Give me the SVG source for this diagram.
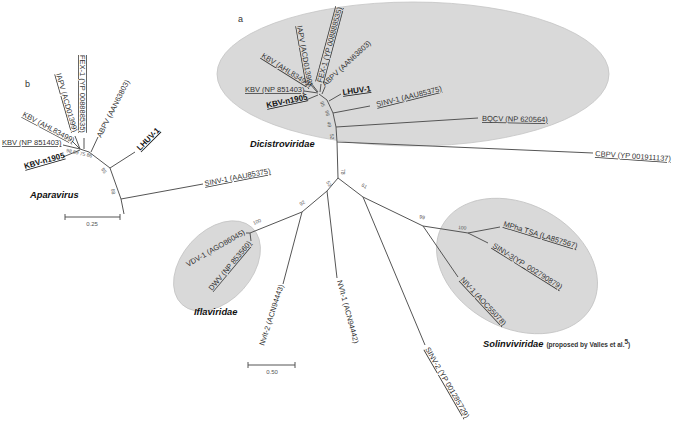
<svg xmlns="http://www.w3.org/2000/svg" width="675" height="423" viewBox="0 0 675 423">
<style>
.bg{fill:#fff}
.cl{fill:#d9d9d9;stroke:#c4c4c4;stroke-width:0.8}
.br{fill:none;stroke:#555;stroke-width:1}
.lb{font-family:"Liberation Sans",Arial,sans-serif;font-size:7.5px;fill:#333}
.u{text-decoration:underline}
.uo{text-decoration:underline overline}
.bd{font-family:"Liberation Sans",Arial,sans-serif;font-size:8px;font-weight:bold;fill:#111;text-decoration:underline}
.bs{font-family:"Liberation Sans",Arial,sans-serif;font-size:5px;fill:#555}
.fam{font-family:"Liberation Sans",Arial,sans-serif;font-size:9.3px;font-weight:bold;font-style:italic;fill:#111}
.pl{font-family:"Liberation Sans",Arial,sans-serif;font-size:9px;fill:#333}
.sc{font-family:"Liberation Sans",Arial,sans-serif;font-size:6px;fill:#555}
.note{font-family:"Liberation Sans",Arial,sans-serif;font-size:6.5px;font-weight:bold;fill:#333}
</style>
<rect class="bg" x="0" y="0" width="675" height="423"/>

<g id="clades">
<ellipse id="dicistroviridae-area" class="cl" cx="413" cy="74" rx="196" ry="72"/>
<ellipse id="iflaviridae-area" class="cl" cx="217" cy="266" rx="52" ry="35" transform="rotate(-48 217 266)"/>
<ellipse id="solinviviridae-area" class="cl" cx="517" cy="266" rx="85" ry="62" transform="rotate(28 517 266)"/>
</g>

<g id="connectors">
<!-- tree b -->
<path class="br" d="M63,145 L80,149 M72,141 L80,149 M75,136 L80,149 M84,138 L84,149 M63,157 L80,150 M98,137 L91,152"/>
<path class="br" d="M80,149 L89,152 L110,168 L121,199 L124,214"/>
<path class="br" d="M110,168 L135,152 M121,199 L203,184"/>
<!-- tree a -->
<path class="br" d="M304,91 L318,93 M306,100 L318,95 M310,84 L317,92 M311,83 L318,92 M321,84 L320,92 M325,87 L322,94"/>
<path class="br" d="M319,94 L327,100 L333,113 L336,127 L337,142 L338,178"/>
<path class="br" d="M329,101 L341,94 M333,113 L370,106 M336,127 L478,118 M337,142 L593,153"/>
<path class="br" d="M338,178 L327,191 M338,178 L363,197"/>
<path class="br" d="M327,191 L337,278 M327,191 L302,212"/>
<path class="br" d="M302,212 L250,233 M302,212 L283,284 M250,233 L246,233 M250,233 L251,241"/>
<path class="br" d="M363,197 L425,345 M363,197 L423,226"/>
<path class="br" d="M423,226 L468,233 M423,226 L458,277"/>
<path class="br" d="M468,233 L500,227 M468,233 L488,243"/>
</g>

<g id="tree-b">
<text class="pl" x="25" y="87">b</text>
<g id="b-fex1"><text class="lb uo" transform="translate(80,55) rotate(90)">FEX-1 (YP 008888535)</text></g>
<g id="b-iapv"><text class="lb u" transform="translate(56,74) rotate(74)">IAPV (ACD01399)</text></g>
<g id="b-kbv-ahl"><text class="lb u" transform="translate(22,116) rotate(28)">KBV (AHL83499)</text></g>
<g id="b-kbv-np"><text class="lb u" x="2" y="145">KBV (NP 851403)</text></g>
<g id="b-kbv-n1905"><text class="bd" transform="translate(25,169) rotate(-16)">KBV-n1905</text></g>
<g id="b-abpv"><text class="lb" transform="translate(101,138) rotate(-63)">ABPV (AAN63803)</text></g>
<g id="b-lhuv"><text class="bd" transform="translate(140,151) rotate(-45)">LHUV-1</text></g>
<g id="b-sinv1"><text class="lb u" transform="translate(205,186) rotate(-11)">SINV-1 (AAU85375)</text></g>
<text class="bs" transform="translate(66,152) rotate(12)">98 59 75 86</text>
<text class="bs" transform="translate(101,169) rotate(60)">95</text>
<text class="bs" transform="translate(111,189) rotate(80)">68</text>
<text class="fam" x="30" y="198">Aparavirus</text>
<path class="br" d="M65,217 L120,217 M65,214 L65,220 M120,214 L120,220"/>
<text class="sc" x="92" y="226" text-anchor="middle">0.25</text>
</g>

<g id="tree-a">
<text class="pl" x="238" y="22">a</text>
<g id="a-kbv-np"><text class="lb u" x="245" y="92">KBV (NP 851403)</text></g>
<g id="a-kbv-n1905"><text class="bd" transform="translate(267,108) rotate(-12)">KBV-n1905</text></g>
<g id="a-kbv-ahl"><text class="lb u" transform="translate(261,57) rotate(32)">KBV (AHL83499)</text></g>
<g id="a-iapv"><text class="lb u" transform="translate(297,26) rotate(80)">IAPV (ACD01399)</text></g>
<g id="a-fex1"><text class="lb uo" transform="translate(322,83) rotate(-75)">FEX-1 (YP 008888535)</text></g>
<g id="a-abpv"><text class="lb" transform="translate(325,87) rotate(-43)">ABPV (AAN63803)</text></g>
<g id="a-lhuv"><text class="bd" transform="translate(343,95) rotate(-8)">LHUV-1</text></g>
<g id="a-sinv1"><text class="lb u" transform="translate(377,107) rotate(-14)">SINV-1 (AAU85375)</text></g>
<g id="a-bqcv"><text class="lb u" transform="translate(482,121) rotate(1)">BQCV (NP 620564)</text></g>
<g id="a-cbpv"><text class="lb u" transform="translate(595,156) rotate(4)">CBPV (YP 001911137)</text></g>
<g id="a-vdv"><text class="lb" transform="translate(188,267) rotate(-30)">VDV-1 (AGO86045)</text></g>
<g id="a-dwv"><text class="lb u" transform="translate(212,291) rotate(-50)">DWV (NP 853560)</text></g>
<g id="a-nv2"><text class="lb" transform="translate(264,346) rotate(-72)">NvIt-2 (ACN94443)</text></g>
<g id="a-nv1"><text class="lb" transform="translate(337,281) rotate(75)">NVIt-1 (ACN94442)</text></g>
<g id="a-mpha"><text class="lb u" transform="translate(503,226) rotate(17)">MPha TSA (LA857567)</text></g>
<g id="a-sinv3"><text class="lb u" transform="translate(492,247) rotate(32)">SINV-3(YP_002790879)</text></g>
<g id="a-niv1"><text class="lb u" transform="translate(460,280) rotate(47)">NIV-1 (AOC55078)</text></g>
<g id="a-sinv2"><text class="lb u" transform="translate(425,349) rotate(60)">SINV-2 (YP 001285729)</text></g>

<text class="bs" transform="translate(320,102) rotate(70)">95</text>
<text class="bs" transform="translate(325,111) rotate(75)">96</text>
<text class="bs" transform="translate(327,122) rotate(80)">49</text>
<text class="bs" transform="translate(330,134) rotate(85)">52</text>
<text class="bs" transform="translate(341,169) rotate(90)">78</text>
<text class="bs" transform="translate(326,182) rotate(60)">53</text>
<text class="bs" transform="translate(361,186) rotate(30)">61</text>
<text class="bs" transform="translate(301,206) rotate(-35)">92</text>
<text class="bs" transform="translate(254,225) rotate(-25)">100</text>
<text class="bs" transform="translate(419,218) rotate(15)">99</text>
<text class="bs" transform="translate(458,229) rotate(5)">100</text>

<text class="fam" x="250" y="147">Dicistroviridae</text>
<text class="fam" x="194" y="315">Iflaviridae</text>
<text x="483" y="347"><tspan class="fam">Solinviviridae</tspan><tspan class="note" dx="3">(proposed by Valles et al.</tspan><tspan class="note" font-size="4.5" dy="-3">5</tspan><tspan class="note" dy="3">)</tspan></text>
<path class="br" d="M248,365 L295,365 M248,362 L248,368 M295,362 L295,368"/>
<text class="sc" x="272" y="374" text-anchor="middle">0.50</text>
</g>
</svg>
